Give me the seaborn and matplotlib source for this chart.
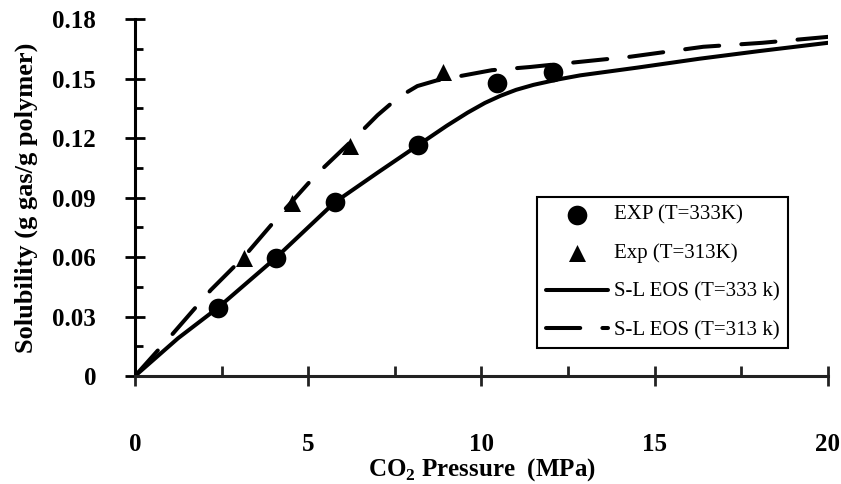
import matplotlib
matplotlib.use('Agg')
import matplotlib.pyplot as plt
import seaborn as sns
import pandas as pd

exp_333_pressure = [2.4, 4.06, 5.76, 8.18, 10.46, 12.05]
exp_333_solubility = [0.0345, 0.0597, 0.0877, 0.1165, 0.1478, 0.1533]
exp_313_pressure = [3.15, 4.52, 6.22, 8.9]
exp_313_solubility = [0.0595, 0.0872, 0.116, 0.1533]

# S-L EOS model curves
eos_333_pressure = [0, 1.24, 2.4, 4.06, 5.76, 7.0, 8.18, 9.0, 9.6, 10.1, 10.55, 11.0, 11.5, 12.2, 12.85, 14.5,
                    16.3, 18.0, 20.0]
eos_333_solubility = [0, 0.019, 0.0345, 0.0595, 0.0875, 0.1025, 0.1165, 0.1262, 0.1328, 0.1377, 0.1413, 0.1443,
                      0.1468, 0.1495, 0.1516, 0.1555, 0.160, 0.1638, 0.168]
eos_313_pressure = [0, 1.1, 2.19, 3.14, 4.12, 5.2, 6.43, 7.0, 7.6, 8.15, 8.7, 9.25, 10.3, 11.4, 12.5, 14.3, 16.4,
                    18.1, 20.0]
eos_313_solubility = [0, 0.0215, 0.0434, 0.060, 0.080, 0.101, 0.1215, 0.1315, 0.1405, 0.1462, 0.149, 0.1508,
                      0.1542, 0.1558, 0.1578, 0.161, 0.166, 0.168, 0.171]

x_ticks = [0, 5, 10, 15, 20]
y_ticks = [0, 0.03, 0.06, 0.09, 0.12, 0.15, 0.18]
y_tick_labels = ['0', '0.03', '0.06', '0.09', '0.12', '0.15', '0.18']

sns.set_style('ticks')
plt.rcParams['font.family'] = ['Liberation Serif', 'DejaVu Serif']
plt.rcParams['mathtext.fontset'] = 'custom'
plt.rcParams['mathtext.bf'] = 'Liberation Serif:bold'
plt.rcParams['mathtext.rm'] = 'Liberation Serif'
plt.rcParams['text.color'] = 'black'
plt.rcParams['axes.labelcolor'] = 'black'
plt.rcParams['xtick.labelcolor'] = 'black'
plt.rcParams['ytick.labelcolor'] = 'black'

fig, ax = plt.subplots(figsize=(8.41, 4.84), dpi=100)
fig.subplots_adjust(left=0.1605, right=0.9845, top=0.9607, bottom=0.2231)

df_333 = pd.DataFrame({'p': exp_333_pressure, 's': exp_333_solubility})
df_313 = pd.DataFrame({'p': exp_313_pressure, 's': exp_313_solubility})
eos_333 = pd.DataFrame({'p': eos_333_pressure, 's': eos_333_solubility})
eos_313 = pd.DataFrame({'p': eos_313_pressure, 's': eos_313_solubility})

# Model curves
sns.lineplot(data=eos_333, x='p', y='s', ax=ax, color='black', linewidth=2.9, sort=False,
             estimator=None, label='S-L EOS (T=333 k)', zorder=2)
sns.lineplot(data=eos_313, x='p', y='s', ax=ax, color='black', linewidth=2.9, sort=False,
             estimator=None, label='S-L EOS (T=313 k)', zorder=2)
ax.lines[1].set_dashes((8.5, 5.5))
ax.lines[1].set_dash_capstyle('round')
ax.lines[0].set_solid_capstyle('round')
ax.lines[0].set_solid_joinstyle('round')

# Experimental points
sns.scatterplot(data=df_333, x='p', y='s', ax=ax, color='black', marker='o', s=200,
                edgecolor='black', linewidth=0, label='EXP (T=333K)', zorder=3)
sns.scatterplot(data=df_313, x='p', y='s', ax=ax, color='black', marker='^', s=150,
                edgecolor='black', linewidth=0, label='Exp (T=313K)', zorder=3)

ax.set_xlim(0, 20)
ax.set_ylim(0, 0.18)
ax.set_xticks(x_ticks)
ax.set_xticklabels([str(t) for t in x_ticks])
ax.set_yticks(y_ticks)
ax.set_yticklabels(y_tick_labels)
ax.set_xticks([2.5, 7.5, 12.5, 17.5], minor=True)
ax.set_yticks([0.015, 0.045, 0.075, 0.105, 0.135, 0.165], minor=True)

for lab in ax.get_xticklabels() + ax.get_yticklabels():
    lab.set_fontweight('bold')
    lab.set_fontsize(18)

ax.tick_params(axis='x', which='major', direction='inout', length=14, width=2, pad=34, color='#222222')
ax.tick_params(axis='y', which='major', direction='inout', length=14, width=2, pad=21, color='black')
ax.tick_params(axis='x', which='minor', direction='in', length=7, width=2, color='#222222')
ax.tick_params(axis='y', which='minor', direction='in', length=6, width=2, color='black')

sns.despine(ax=ax)
ax.spines['left'].set_linewidth(2.2)
ax.spines['left'].set_color('black')
ax.spines['bottom'].set_linewidth(2.2)
ax.spines['bottom'].set_color('#222222')

ax.set_xlabel(r'CO$_\mathbf{2}$ Pressure  (MPa)', fontsize=18, fontweight='bold')
ax.set_ylabel('Solubility (g gas/g polymer)', fontsize=19, fontweight='bold')
ax.xaxis.set_label_coords(0.5, -0.225)
ax.yaxis.set_label_coords(-0.14, 0.5)

# Legend order: points first, then the model curves
handles, labels = ax.get_legend_handles_labels()
order = [labels.index(n) for n in ['EXP (T=333K)', 'Exp (T=313K)', 'S-L EOS (T=333 k)', 'S-L EOS (T=313 k)']]
leg = ax.legend([handles[i] for i in order], [labels[i] for i in order],
                loc='lower right', bbox_to_anchor=(0.958, 0.048), fontsize=15,
                frameon=True, fancybox=False, framealpha=1, edgecolor='black',
                handlelength=3.0, handletextpad=0.3, labelspacing=0.9, borderpad=0.4)
leg.get_frame().set_linewidth(1.5)

plt.savefig('out.png', dpi=100)
